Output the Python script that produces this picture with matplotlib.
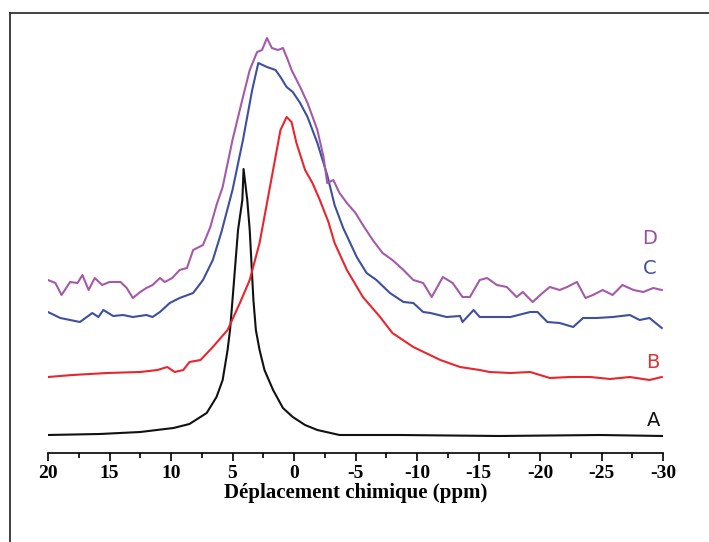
import matplotlib
matplotlib.use("Agg")
import matplotlib.pyplot as plt
from matplotlib.lines import Line2D
from matplotlib.ticker import MultipleLocator

plt.rcParams["axes.unicode_minus"] = False

# chemical shift (ppm) and intensity (a.u., stacked)
a_ppm = [20.0, 15.8, 12.5, 9.8, 8.5, 7.1, 6.3, 5.8, 5.4, 5.2, 5.0, 4.55, 4.2, 4.1,
         3.8, 3.6, 3.3, 3.1, 2.8, 2.4, 1.7, 0.9, 0.1, -0.9, -1.9, -3.7, -8.6,
         -16.7, -24.9, -30.0]
a_int = [28, 29, 31, 35, 39, 50, 66, 83, 113, 133, 163, 233, 263, 294,
         263, 233, 163, 133, 113, 93, 73, 55, 46, 38, 33, 28, 28,
         27, 28, 27]

b_ppm = [20.0, 18.0, 15.2, 12.5, 11.1, 10.3, 9.7, 9.0, 8.5, 7.6, 6.6, 5.4, 4.4,
         3.6, 2.8, 1.7, 1.1, 0.6, 0.2, -0.2, -0.9, -1.5, -2.1, -2.8, -3.3,
         -4.3, -5.6, -7.0, -8.0, -9.7, -11.9, -13.5, -15.1, -15.9, -17.6,
         -19.2, -20.8, -22.4, -24.1, -25.7, -27.3, -28.9, -29.9]
b_int = [86, 88, 90, 91, 93, 96, 91, 93, 101, 103, 116, 133, 160,
         183, 220, 293, 333, 346, 341, 320, 293, 280, 263, 241, 220,
         193, 166, 146, 130, 116, 103, 96, 93, 91, 90,
         91, 85, 86, 86, 84, 86, 83, 86]

c_ppm = [20.0, 19.0, 17.4, 16.4, 15.9, 15.5, 14.7, 13.9, 13.1, 12.0, 11.5, 10.9,
         10.1, 9.3, 8.2, 7.4, 6.6, 5.9, 5.0, 4.15, 3.4, 2.9, 2.2, 1.5, 1.1,
         0.6, 0.1, -0.5, -1.1, -1.9, -2.7, -3.3, -4.0, -5.1, -5.9, -6.7, -7.8,
         -8.9, -9.7, -10.5, -11.1, -12.4, -13.5, -13.7, -14.6, -15.1, -16.5,
         -17.6, -19.2, -19.8, -20.6, -21.6, -22.7, -23.5, -24.6, -25.9, -27.3,
         -28.1, -28.9, -29.9]
c_int = [151, 145, 141, 150, 146, 153, 147, 148, 146, 148, 146, 151,
         160, 165, 170, 183, 203, 231, 273, 323, 373, 400, 396, 393, 386,
         376, 371, 360, 346, 320, 288, 258, 235, 206, 190, 183, 170,
         161, 160, 151, 150, 146, 147, 141, 153, 146, 146,
         146, 151, 151, 141, 140, 136, 145, 145, 146, 148,
         143, 145, 135]

d_ppm = [20.0, 19.4, 18.9, 18.2, 17.6, 17.2, 16.7, 16.2, 15.6, 15.0, 14.1, 13.6,
         13.1, 12.5, 12.0, 11.5, 10.9, 10.5, 9.9, 9.3, 8.7, 8.2, 7.4, 6.8, 6.3,
         5.8, 5.0, 4.15, 3.6, 3.0, 2.6, 2.2, 1.8, 1.3, 0.9, 0.5, 0.2, -0.5,
         -1.1, -1.9, -2.4, -2.7, -3.2, -3.7, -4.3, -5.0, -5.6, -6.4, -7.2,
         -8.0, -8.9, -9.7, -10.5, -11.2, -12.1, -12.9, -13.7, -14.3, -15.1,
         -15.7, -16.5, -17.3, -18.1, -18.6, -19.4, -20.2, -20.8, -21.6, -22.2,
         -23.0, -23.7, -24.3, -25.1, -25.9, -26.7, -27.6, -28.4, -29.2, -29.9]
d_int = [183, 180, 168, 181, 180, 188, 173, 185, 178, 181, 181, 175,
         165, 171, 175, 178, 185, 181, 185, 193, 195, 213, 218, 236, 258,
         276, 323, 366, 393, 411, 413, 425, 415, 413, 415, 403, 393, 376,
         360, 333, 306, 280, 283, 270, 260, 250, 238, 223, 210,
         203, 193, 183, 180, 166, 186, 180, 166, 166, 183,
         185, 178, 176, 166, 171, 161, 170, 176, 173, 176,
         181, 165, 168, 173, 168, 178, 173, 171, 175, 173]

labels = ["A", "B", "C", "D"]
label_ppm = [-29.2, -29.2, -28.9, -28.9]
label_int = [43, 100, 195, 225]

colors = ["#111111", "#e8262d", "#3f4fa0", "#a45aa8"]
label_colors = ["#111111", "#d9363b", "#404f9b", "#9a4e9e"]

fig = plt.figure(figsize=(7.09, 5.42), dpi=100)
ax = fig.add_axes([48 / 709, 1 - 453 / 542, 615 / 709, 439 / 542])

for xs, ys, c in zip([a_ppm, b_ppm, c_ppm, d_ppm], [a_int, b_int, c_int, d_int], colors):
    ax.plot(xs, ys, color=c, lw=1.5)

for lab, x, y, c in zip(labels, label_ppm, label_int, label_colors):
    ax.text(x, y, lab, color=c, fontsize=14, ha="center", va="center",
            family="DejaVu Sans")

ax.set_xlim(20, -30)
ax.set_ylim(10, 449)
ax.set_yticks([])
for s in ["top", "right", "left"]:
    ax.spines[s].set_visible(False)
ax.spines["bottom"].set_linewidth(1.2)
ax.xaxis.set_major_locator(MultipleLocator(5))
ax.xaxis.set_minor_locator(MultipleLocator(2.5))
ax.tick_params(axis="x", which="major", direction="out", length=6, width=1.2, pad=2.5)
ax.tick_params(axis="x", which="minor", direction="out", length=3.5, width=1.2)
for t in ax.get_xticklabels():
    t.set_fontfamily("Liberation Serif")
    t.set_fontweight("bold")
    t.set_fontsize(14)
ax.set_xlabel("Déplacement chimique (ppm)", family="Liberation Serif",
              fontweight="bold", fontsize=15, labelpad=1)

# frame around the figure (top and left edges visible)
fig.add_artist(Line2D([10 / 709, 1], [1 - 13 / 542, 1 - 13 / 542], color="#333333", lw=1.3))
fig.add_artist(Line2D([10 / 709, 10 / 709], [0, 1 - 13 / 542], color="#333333", lw=1.3))

fig.savefig("out.png", dpi=100)
